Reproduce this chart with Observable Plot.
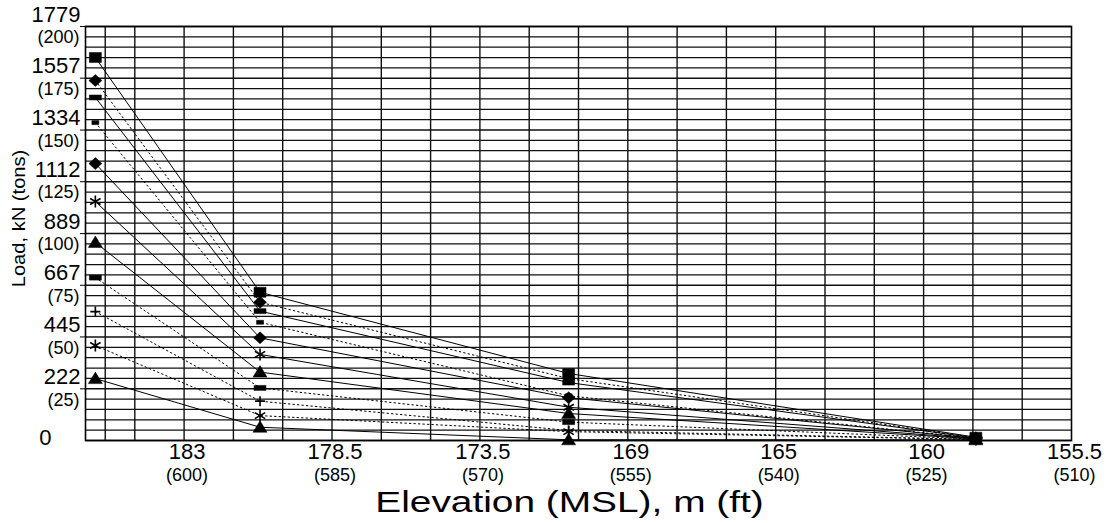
<!DOCTYPE html>
<html><head><meta charset="utf-8">
<script src="https://cdn.jsdelivr.net/npm/d3@7"></script>
<script src="https://cdn.jsdelivr.net/npm/@observablehq/plot@0.6"></script>
<style>
body{margin:0;background:#fff;}
#chart svg{font-family:"Liberation Sans",Arial,sans-serif;background:#fff;}
</style></head><body><div id="chart"></div>
<script>
// Elevations (ft) of the four measuring levels
const gaugeElevFt = [609, 592.3, 561, 519.7];
// One entry per load step (series)
const seriesNames = ["L1","L2","L3","L4","L5","L6","L7","L8","L9","L10","L11"];
const seriesMarker = ["square","diamond","bar","smallBar","diamond","asterisk","triangle","bar","plus","asterisk","triangle"];
const seriesLine = ["solid","dotted","solid","dotted","solid","solid","solid","dotted","dotted","dotted","solid"];
// Load (kN) at each level, one value per series
const loadLevel1 = [1646,1547,1474,1366,1190,1027,851,700,554,408,266];
const loadLevel2 = [637,594,556,508,441,370,294,226,169,107,57];
const loadLevel3 = [288,266,249,192,184,143,116,79,43,38,3];
const loadLevel4 = [14,12,11,10,9,8,7,6,5,4,3];

// Axis ticks
const yTicksKN = [0,222,445,667,889,1112,1334,1557,1779];
const yTickTons = ["","(25)","(50)","(75)","(100)","(125)","(150)","(175)","(200)"];
const xTicksFt = [600,585,570,555,540,525,510];
const xTickM = ["183","178.5","173.5","169","165","160","155.5"];
const xTickFtLabel = ["(600)","(585)","(570)","(555)","(540)","(525)","(510)"];
const xGridFt = [608,605,600,595,590,585,580,575,570,565,560,555,550,545,540,535,530,525,520,515];
const yGridTonsStep = 5;
const kNPerTon = 1779/200;
const xTitle = "Elevation (MSL), m (ft)";
const yTitle = "Load, kN (tons)";

const levels = [loadLevel1, loadLevel2, loadLevel3, loadLevel4];
const rows = [];
seriesNames.forEach((s, i) => {
  levels.forEach((lv, j) => rows.push({series: s, marker: seriesMarker[i], line: seriesLine[i], elev: gaugeElevFt[j], load: lv[i]}));
});
const yGrid = d3.range(0, 200 + 1, yGridTonsStep).map(t => t * kNPerTon);

const sym = {
  square: {draw(c){c.rect(-6,-5,12,10);}},
  diamond: {draw(c){c.moveTo(0,-6);c.lineTo(6.5,0);c.lineTo(0,6);c.lineTo(-6.5,0);c.closePath();}},
  bar: {draw(c){c.rect(-6,-2.5,12,5);}},
  smallBar: {draw(c){c.rect(-3.5,-2,7,4);}},
  triangle: {draw(c){c.moveTo(0,-6.5);c.lineTo(7,5);c.lineTo(-7,5);c.closePath();}},
  asterisk: {draw(c){c.moveTo(0,-6);c.lineTo(0,6);c.moveTo(-5.2,-3);c.lineTo(5.2,3);c.moveTo(-5.2,3);c.lineTo(5.2,-3);}},
  plus: {draw(c){c.moveTo(0,-5);c.lineTo(0,5);c.moveTo(-5,0);c.lineTo(5,0);}}
};
const filled = new Set(["square","diamond","bar","smallBar","triangle"]);

const dotMarks = Object.keys(sym).map(k => Plot.dot(rows.filter(d => d.marker === k), {
  x: "elev", y: "load", symbol: sym[k],
  fill: filled.has(k) ? "black" : "none",
  stroke: "black", strokeWidth: filled.has(k) ? 0.5 : 1.6
}));

const chart = Plot.plot({
  width: 1110, height: 523,
  marginLeft: 85, marginRight: 39, marginTop: 26, marginBottom: 83,
  style: {fontFamily: "Liberation Sans, Arial, sans-serif", color: "black"},
  x: {domain: [610, 510], label: null, axis: null},
  y: {domain: [0, 1779], label: null, axis: null},
  marks: [
    Plot.ruleY(yGrid, {stroke: "#111", strokeWidth: 1.3}),
    Plot.ruleX(xGridFt, {stroke: "#111", strokeWidth: 1.4}),
    Plot.line(rows.filter(d => d.line === "solid"), {x: "elev", y: "load", z: "series", stroke: "black", strokeWidth: 1}),
    Plot.line(rows.filter(d => d.line === "dotted"), {x: "elev", y: "load", z: "series", stroke: "black", strokeWidth: 1, strokeDasharray: "1.5,3"}),
    ...dotMarks,
    Plot.frame({stroke: "black", strokeWidth: 1.6}),
    Plot.axisY(yTicksKN.slice(1), {tickSize: 5, tickFormat: () => "", ariaLabel: "y-ticks"}),
    Plot.axisY(yTicksKN.slice(1), {tickSize: 0, tickPadding: 5, dy: -12, fontSize: 22, tickFormat: d => String(d), ariaLabel: "y-kN"}),
    Plot.axisY([0], {tickSize: 0, tickPadding: 34, dy: -3, fontSize: 22, tickFormat: d => String(d), ariaLabel: "y-kN0"}),
    Plot.axisY(yTicksKN.slice(1), {tickSize: 0, tickPadding: 6, dy: 11, fontSize: 18, tickFormat: d => yTickTons[yTicksKN.indexOf(d)], ariaLabel: "y-tons"}),
    Plot.axisX(xTicksFt, {tickSize: 0, tickPadding: 3, dx: 3, fontSize: 22, tickFormat: d => xTickM[xTicksFt.indexOf(d)], ariaLabel: "x-m"}),
    Plot.axisX(xTicksFt, {tickSize: 0, tickPadding: 28, dx: 3, fontSize: 18, tickFormat: d => xTickFtLabel[xTicksFt.indexOf(d)], ariaLabel: "x-ft"}),
    Plot.text([xTitle], {frameAnchor: "bottom", dx: -9, dy: 71, fontSize: 29}),
    Plot.text([yTitle], {frameAnchor: "left", textAnchor: "middle", rotate: -90, dx: -67, dy: -15, fontSize: 19})
  ]
});
document.getElementById("chart").appendChild(chart);
// the scanned original is horizontally stretched: widen the x title
d3.select(chart).selectAll("text").filter(function() { return this.textContent === xTitle; })
  .each(function() {
    const t = this.getAttribute("transform") || "";
    this.setAttribute("transform", t + " scale(1.34,1)");
  });
d3.select(chart).selectAll("text").filter(function() { return this.textContent === yTitle; })
  .each(function() {
    const t = this.getAttribute("transform") || "";
    this.setAttribute("transform", t + " scale(1.06,1)");
  });
</script></body></html>
